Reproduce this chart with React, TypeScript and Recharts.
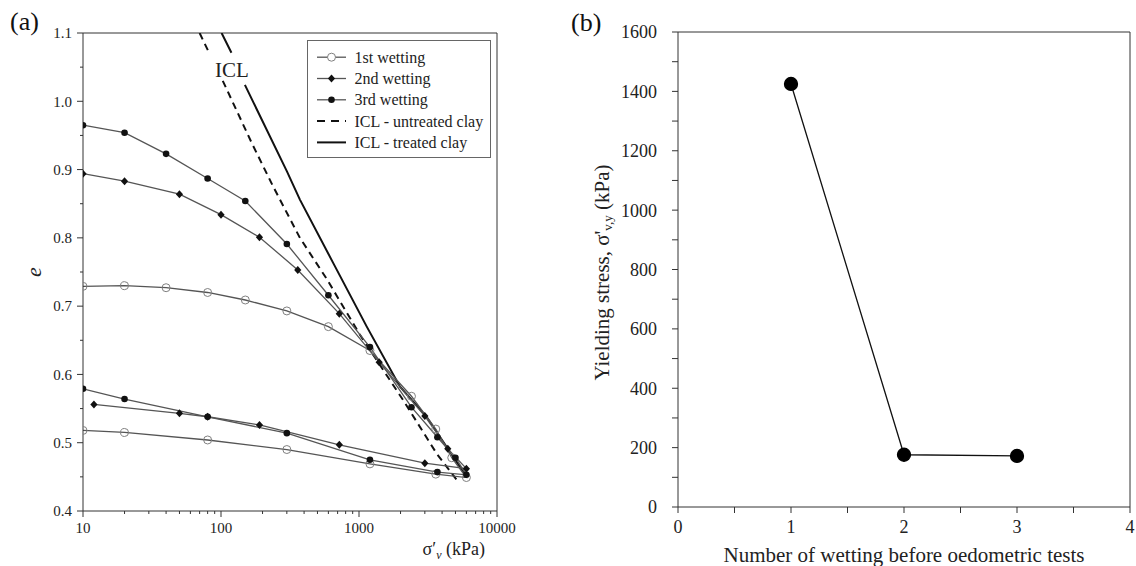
import { Label, Legend, Line, LineChart, ReferenceLine, XAxis, YAxis } from 'recharts';

const FONT = '"Liberation Serif", "Times New Roman", serif';

// (a) void ratio e against vertical effective stress (kPa), loading then unloading
const WET1_LOAD_X = [10, 20, 40, 80, 150, 300, 600, 1200, 2400, 3600, 4700, 6000];
const WET1_LOAD_E = [0.729, 0.73, 0.727, 0.72, 0.709, 0.693, 0.67, 0.635, 0.568, 0.52, 0.478, 0.449];
const WET1_UNLOAD_X = [3600, 1200, 300, 80, 20, 10];
const WET1_UNLOAD_E = [0.454, 0.469, 0.49, 0.504, 0.515, 0.518];

const WET2_LOAD_X = [10, 20, 50, 100, 190, 360, 720, 1400, 3000, 4400, 6000];
const WET2_LOAD_E = [0.894, 0.883, 0.864, 0.834, 0.801, 0.753, 0.689, 0.618, 0.539, 0.491, 0.462];
const WET2_UNLOAD_X = [3000, 720, 190, 80, 50, 12];
const WET2_UNLOAD_E = [0.47, 0.497, 0.526, 0.538, 0.543, 0.556];

const WET3_LOAD_X = [10, 20, 40, 80, 150, 300, 600, 1200, 2400, 3700, 5000, 6000];
const WET3_LOAD_E = [0.965, 0.954, 0.923, 0.887, 0.854, 0.791, 0.716, 0.64, 0.552, 0.508, 0.478, 0.453];
const WET3_UNLOAD_X = [3700, 1200, 300, 80, 20, 10];
const WET3_UNLOAD_E = [0.457, 0.475, 0.514, 0.538, 0.564, 0.579];

// null marks the break where the "ICL" text sits
const ICL_UNTREATED_X = [70, 82, 92, 103, 166, 239, 373, 583, 1016, 2094, 3656, 5310];
const ICL_UNTREATED_E = [1.1, 1.071, null, 1.03, 0.94, 0.875, 0.8, 0.74, 0.658, 0.562, 0.484, 0.441];
const ICL_TREATED_X = [101, 119, 134, 149, 301, 373, 651, 1138, 1982, 3090, 5930];
const ICL_TREATED_E = [1.1, 1.071, null, 1.024, 0.897, 0.856, 0.763, 0.67, 0.582, 0.538, 0.452];

const LOG_TICKS = [10, 20, 30, 40, 50, 60, 70, 80, 90, 100, 200, 300, 400, 500, 600, 700, 800, 900,
  1000, 2000, 3000, 4000, 5000, 6000, 7000, 8000, 9000, 10000];
const E_TICKS = [0.4, 0.45, 0.5, 0.55, 0.6, 0.65, 0.7, 0.75, 0.8, 0.85, 0.9, 0.95, 1.0, 1.05, 1.1];

// (b) yield stress against number of wettings
const WETTING_COUNT = [1, 2, 3];
const YIELD_STRESS = [1425, 176, 172];
const COUNT_TICKS = [0, 0.5, 1, 1.5, 2, 2.5, 3, 3.5, 4];
const STRESS_TICKS = [0, 100, 200, 300, 400, 500, 600, 700, 800, 900, 1000, 1100, 1200, 1300, 1400, 1500, 1600];

const pts = (xs: number[], es: (number | null)[]) => xs.map((x, i) => ({ x, e: es[i] }));

const wet1 = [...pts(WET1_LOAD_X, WET1_LOAD_E), ...pts(WET1_UNLOAD_X, WET1_UNLOAD_E)];
const wet2 = [...pts(WET2_LOAD_X, WET2_LOAD_E), ...pts(WET2_UNLOAD_X, WET2_UNLOAD_E)];
const wet3 = [...pts(WET3_LOAD_X, WET3_LOAD_E), ...pts(WET3_UNLOAD_X, WET3_UNLOAD_E)];
const iclU = pts(ICL_UNTREATED_X, ICL_UNTREATED_E);
const iclT = pts(ICL_TREATED_X, ICL_TREATED_E);
const yieldData = WETTING_COUNT.map((n, i) => ({ n, s: YIELD_STRESS[i] }));

const LINE_GREY = '#555';
const AXIS = '#333';

const OpenDot = (p: any) =>
  p.cx == null ? null : <circle key={p.index} cx={p.cx} cy={p.cy} r={4} fill="none" stroke="#808080" strokeWidth={1} />;
const FilledDot = (p: any) =>
  p.cx == null ? null : <circle key={p.index} cx={p.cx} cy={p.cy} r={3.3} fill="#111" />;
const Diamond = (p: any) =>
  p.cx == null ? null : (
    <path key={p.index} d={`M${p.cx},${p.cy - 4}L${p.cx + 3.6},${p.cy}L${p.cx},${p.cy + 4}L${p.cx - 3.6},${p.cy}Z`} fill="#111" />
  );

const LogTick = (p: any) => {
  const v = p.payload.value;
  const major = v === 10 || v === 100 || v === 1000 || v === 10000;
  return (
    <g>
      <line x1={p.x} x2={p.x} y1={p.y} y2={p.y + (major ? 6 : 3)} stroke={AXIS} />
      {major && (
        <text x={p.x} y={p.y + 22} textAnchor="middle" fontSize={15} fill="#222" fontFamily={FONT}>{v}</text>
      )}
    </g>
  );
};

const ETick = (p: any) => {
  const v = p.payload.value;
  const major = Math.round(v * 100) % 10 === 0;
  return (
    <g>
      <line x1={p.x} x2={p.x - (major ? 6 : 3)} y1={p.y} y2={p.y} stroke={AXIS} />
      {major && (
        <text x={p.x - 11} y={p.y} dy="0.35em" textAnchor="end" fontSize={15} fill="#222" fontFamily={FONT}>{v.toFixed(1)}</text>
      )}
    </g>
  );
};

const LEGEND_ROWS = [
  { name: '1st wetting', kind: 'open' },
  { name: '2nd wetting', kind: 'diamond' },
  { name: '3rd wetting', kind: 'filled' },
  { name: 'ICL - untreated clay', kind: 'dash' },
  { name: 'ICL - treated clay', kind: 'solid' }
];

const LegendBox = () => (
  <svg width={184} height={118} style={{ display: 'block' }}>
    <rect x={0.5} y={0.5} width={183} height={117} fill="#fff" stroke="#666" />
    {LEGEND_ROWS.map((r, i) => {
      const y = 17.2 + i * 21.3;
      const dataLine = r.kind === 'open' || r.kind === 'diamond' || r.kind === 'filled';
      return (
        <g key={r.name}>
          {dataLine && <line x1={10} x2={39} y1={y} y2={y} stroke={LINE_GREY} strokeWidth={1.3} />}
          {r.kind === 'dash' && <line x1={10} x2={39} y1={y} y2={y} stroke="#111" strokeWidth={2} strokeDasharray="8 6" />}
          {r.kind === 'solid' && <line x1={10} x2={39} y1={y} y2={y} stroke="#111" strokeWidth={2} />}
          {r.kind === 'open' && <circle cx={24.5} cy={y} r={4} fill="#fff" stroke="#808080" />}
          {r.kind === 'filled' && <circle cx={24.5} cy={y} r={3.3} fill="#111" />}
          {r.kind === 'diamond' && (
            <path d={`M24.5,${y - 4}L28.1,${y}L24.5,${y + 4}L20.9,${y}Z`} fill="#111" />
          )}
          <text x={47.5} y={y} dy="0.35em" fontSize={16} fill="#222" fontFamily={FONT}>{r.name}</text>
        </g>
      );
    })}
  </svg>
);

export default function App() {
  return (
    <div style={{ position: 'absolute', left: 0, top: 0, width: 1136, height: 566, background: '#fff', fontFamily: FONT }}>
      <div style={{ position: 'absolute', left: 0, top: 0 }}>
        <LineChart width={560} height={566} margin={{ top: 33, right: 63, bottom: 0, left: 0 }}>
          <XAxis
            type="number"
            dataKey="x"
            scale="log"
            domain={[10, 10000]}
            allowDataOverflow
            ticks={LOG_TICKS}
            interval={0}
            tickSize={0}
            tickMargin={0}
            tickLine={false}
            tick={<LogTick />}
            height={55}
            stroke={AXIS}
          >
            <Label
              content={({ viewBox }: any) => (
                <text x={viewBox.x + viewBox.width - 12} y={viewBox.y + 44} textAnchor="end" fontSize={18} fill="#222" fontFamily={FONT}>
                  σ′<tspan fontStyle="italic" fontSize={12} dy={4}>v</tspan>
                  <tspan dy={-4}> (kPa)</tspan>
                </text>
              )}
            />
          </XAxis>
          <YAxis
            type="number"
            domain={[0.4, 1.1]}
            allowDataOverflow
            ticks={E_TICKS}
            interval={0}
            tickSize={0}
            tickMargin={0}
            tickLine={false}
            tick={<ETick />}
            width={83}
            stroke={AXIS}
          >
            <Label
              content={({ viewBox }: any) => {
                const cx = 33;
                const cy = viewBox.y + viewBox.height / 2;
                return (
                  <text x={cx} y={cy} transform={`rotate(-90, ${cx}, ${cy})`} textAnchor="middle" dominantBaseline="central" fontSize={22} fontStyle="italic" fill="#222" fontFamily={FONT}>
                    e
                  </text>
                );
              }}
            />
          </YAxis>
          <ReferenceLine y={1.1} stroke={AXIS} />
          <ReferenceLine x={10000} stroke={AXIS} />
          <Line data={iclU} dataKey="e" type="linear" stroke="#111" strokeWidth={2} strokeDasharray="7 5" dot={false} isAnimationActive={false} />
          <Line data={iclT} dataKey="e" type="linear" stroke="#111" strokeWidth={2} dot={false} isAnimationActive={false} />
          <Line data={wet1} dataKey="e" type="linear" stroke={LINE_GREY} strokeWidth={1.3} dot={OpenDot} isAnimationActive={false} />
          <Line data={wet2} dataKey="e" type="linear" stroke={LINE_GREY} strokeWidth={1.3} dot={Diamond} isAnimationActive={false} />
          <Line data={wet3} dataKey="e" type="linear" stroke={LINE_GREY} strokeWidth={1.3} dot={FilledDot} isAnimationActive={false} />
          <Legend
            layout="vertical"
            align="center"
            verticalAlign="middle"
            wrapperStyle={{ position: 'absolute', left: 307, top: 40, width: 184, height: 118 }}
            content={() => <LegendBox />}
          />
        </LineChart>
      </div>

      <div style={{ position: 'absolute', left: 560, top: 0 }}>
        <LineChart width={576} height={566} data={yieldData} margin={{ top: 32, right: 6, bottom: 0, left: 0 }}>
          <XAxis
            type="number"
            dataKey="n"
            domain={[0, 4]}
            ticks={COUNT_TICKS}
            interval={0}
            tickFormatter={(v: number) => (Number.isInteger(v) ? String(v) : '')}
            tickSize={6}
            tickMargin={7}
            tick={{ fontSize: 18, fill: '#222', fontFamily: FONT }}
            height={59}
            stroke={AXIS}
          >
            <Label
              content={({ viewBox }: any) => (
                <text x={viewBox.x + viewBox.width / 2} y={viewBox.y + 55} textAnchor="middle" fontSize={21} fill="#222" fontFamily={FONT}>
                  Number of wetting before oedometric tests
                </text>
              )}
            />
          </XAxis>
          <YAxis
            type="number"
            domain={[0, 1600]}
            ticks={STRESS_TICKS}
            interval={0}
            tickFormatter={(v: number) => (v % 200 === 0 ? String(v) : '')}
            tickSize={6}
            tickMargin={15}
            tick={{ fontSize: 18, fill: '#222', fontFamily: FONT }}
            width={118}
            stroke={AXIS}
          >
            <Label
              content={({ viewBox }: any) => {
                const cx = 42;
                const cy = viewBox.y + viewBox.height / 2 + 3;
                return (
                  <text x={cx} y={cy} transform={`rotate(-90, ${cx}, ${cy})`} textAnchor="middle" dominantBaseline="central" fontSize={21} fill="#222" fontFamily={FONT}>
                    Yielding stress, σ'<tspan fontSize={13} dy={5}>v,y</tspan>
                    <tspan dy={-5}> (kPa)</tspan>
                  </text>
                );
              }}
            />
          </YAxis>
          <ReferenceLine y={1600} stroke={AXIS} />
          <ReferenceLine x={4} stroke={AXIS} />
          <Line dataKey="s" type="linear" stroke="#111" strokeWidth={1.3} dot={{ r: 6.5, fill: '#000', stroke: '#000' }} isAnimationActive={false} />
        </LineChart>
      </div>

      <svg width={1136} height={566} style={{ position: 'absolute', left: 0, top: 0, pointerEvents: 'none' }}>
        <text x={10} y={30} fontSize={26} fill="#111" fontFamily={FONT}>(a)</text>
        <text x={571} y={31} fontSize={26} fill="#111" fontFamily={FONT}>(b)</text>
        <text x={215} y={77} fontSize={21} fill="#222" fontFamily={FONT}>ICL</text>
      </svg>
    </div>
  );
}
